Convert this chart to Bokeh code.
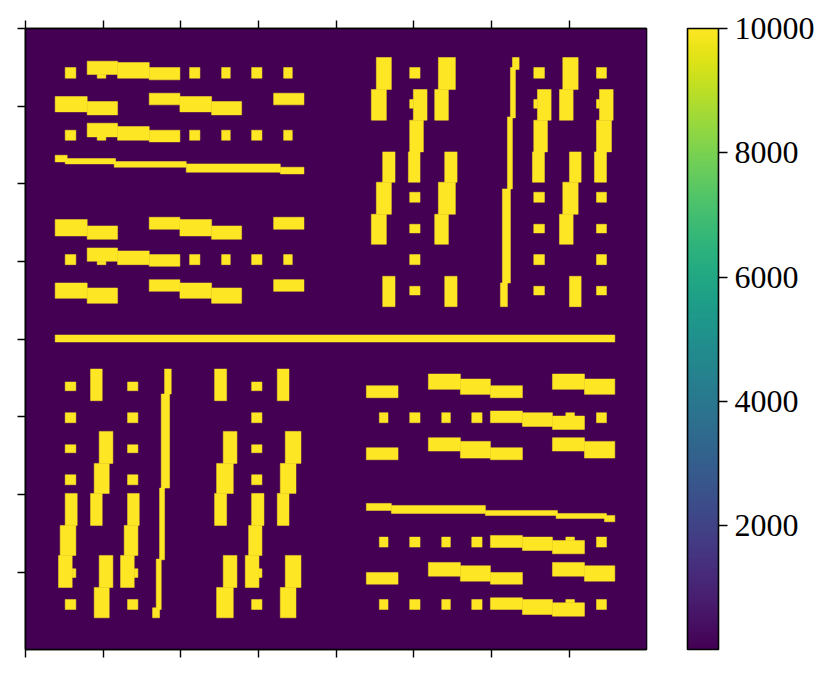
from bokeh.embed import file_html
from bokeh.resources import INLINE
from bokeh.plotting import figure
from bokeh.models import (ColumnDataSource, LinearColorMapper, ColorBar, FixedTicker,
                          LinearAxis, Range1d)
from bokeh.palettes import Viridis256

# matrix extent and tick positions (matrix units)
SIZE = 1862
TICKS = [0, 233, 466, 699, 932, 1164, 1397, 1630]
CBAR_TICKS = [2000, 4000, 6000, 8000, 10000]
VMIN, VMAX = 8, 10000

# blocks of high value, per quadrant: (x0, x1, y0, y1), local quadrant coordinates
TL = [
 (195,227,172,204),(261,352,153,193),(291,317,193,204),(352,447,157,204),(447,539,172,209),
 (568,599,172,204),(664,690,172,204),(754,785,172,204),(850,876,172,204),
 (165,261,259,305),(261,352,274,314),(447,539,249,284),(539,634,259,305),(634,724,274,314),(820,911,249,284),
 (195,227,360,390),(261,352,339,380),(291,317,380,390),(352,447,349,390),(447,539,360,395),
 (568,599,360,390),(664,690,360,390),(754,785,360,390),(850,876,360,390),
 (165,201,435,455),(195,346,445,461),(342,558,454,471),(558,840,461,486),(840,911,471,491),
 (165,261,628,677),(261,352,647,687),(447,539,621,657),(539,634,628,677),(634,724,647,687),(820,911,621,657),
 (195,227,733,763),(261,352,713,753),(291,317,753,763),(352,447,722,763),(447,539,733,768),
 (568,599,733,763),(664,690,733,763),(754,785,733,763),(850,876,733,763),
 (165,261,818,864),(261,352,833,879),(447,539,808,843),(539,634,818,864),(634,724,833,879),(820,911,808,843),
]
TR = [
 (138,183,142,238),(123,168,238,330),(157,194,425,516),(138,183,516,612),(123,168,612,702),(157,194,798,889),
 (238,269,172,204),(249,290,238,330),(238,249,268,294),(238,279,330,425),(234,269,425,516),
 (238,269,546,576),(238,269,642,668),(238,269,733,763),(238,269,828,854),
 (324,375,142,238),(313,354,238,330),(343,380,425,516),(324,375,516,612),(313,354,612,702),(343,380,798,889),
 (546,566,142,178),(540,555,172,323),(531,546,320,536),(516,540,536,818),(510,531,818,889),
 (610,642,172,204),(621,662,238,330),(610,621,268,294),(610,651,330,425),(606,642,425,516),
 (610,642,546,576),(610,642,642,668),(610,642,733,763),(610,642,828,854),
 (697,743,142,238),(687,728,238,330),(717,752,425,516),(697,743,516,612),(687,728,612,702),(717,752,798,889),
 (798,828,172,204),(807,848,238,330),(798,807,268,294),(798,843,330,425),(792,828,425,516),
 (798,828,546,576),(798,828,642,668),(798,828,733,763),(798,828,828,854),
]
BL = [
 (195,227,155,181),(195,227,247,277),(195,227,343,367),(195,227,433,463),(195,231,489,585),
 (180,227,585,675),(175,216,675,771),(216,227,715,741),(195,227,807,837),
 (271,306,116,211),(297,338,303,399),(282,327,399,489),(271,306,489,585),(297,338,675,771),(282,327,771,862),
 (382,413,155,181),(382,413,247,277),(382,413,343,367),(382,413,433,463),(382,417,489,585),
 (372,413,585,675),(361,402,675,771),(402,413,715,741),(382,413,807,837),
 (493,513,116,191),(483,508,191,473),(478,493,473,688),(468,483,686,837),(457,478,832,862),
 (643,679,116,211),(669,710,303,399),(649,699,399,489),(643,679,489,585),(669,710,675,771),(649,699,771,862),
 (754,785,155,181),(754,785,247,277),(754,785,343,367),(754,785,433,463),(754,791,489,585),
 (745,785,585,675),(735,776,675,771),(776,785,715,741),(754,785,807,837),
 (831,866,116,211),(855,902,303,399),(840,887,399,489),(831,866,489,585),(855,902,675,771),(840,887,771,862),
]
BR = [
 (108,203,166,202),(294,390,131,177),(390,480,146,192),(480,576,166,202),(666,762,131,177),(762,853,146,192),
 (147,173,247,277),(238,269,247,277),(334,360,247,277),(424,455,247,277),(480,576,242,277),(576,666,247,288),
 (666,762,257,297),(706,732,247,257),(798,828,247,277),
 (108,203,352,388),(294,390,322,362),(390,480,333,383),(480,576,352,388),(666,762,322,362),(762,853,333,383),
 (108,183,519,540),(183,465,525,549),(465,681,540,555),(677,828,549,564),(822,853,555,574),
 (147,173,620,650),(238,269,620,650),(334,360,620,650),(424,455,620,650),(480,576,615,651),(576,666,620,660),
 (666,762,630,670),(706,732,620,630),(798,828,620,650),
 (108,203,726,761),(294,390,696,737),(390,480,706,752),(480,576,726,761),(666,762,696,737),(762,853,706,752),
 (147,173,807,837),(238,269,807,837),(334,360,807,837),(424,455,807,837),(480,576,802,837),(576,666,807,852),
 (666,762,817,857),(706,732,807,817),(798,828,807,837),
]
MIDDLE = [(89, 1767, 919, 940)]

QUADRANTS = [(TL, -76, -55), (TR, 914, -55), (BL, -76, 905), (BR, 914, 905), (MIDDLE, 0, 0)]

left, right, top, bottom, val = [], [], [], [], []
for blocks, dx, dy in QUADRANTS:
    for x0, x1, y0, y1 in blocks:
        left.append(x0 + dx); right.append(x1 + dx)
        top.append(y0 + dy); bottom.append(y1 + dy)
        val.append(VMAX)

src = ColumnDataSource(dict(left=left, right=right, top=top, bottom=bottom, val=val))
mapper = LinearColorMapper(palette=Viridis256, low=VMIN, high=VMAX)

p = figure(width=815, height=658, output_backend="svg", toolbar_location=None,
           x_range=Range1d(0, SIZE), y_range=Range1d(SIZE, 0),
           x_axis_location=None, y_axis_location=None,
           min_border_left=25, min_border_top=28, min_border_bottom=9, min_border_right=10)
p.frame_width = 621
p.frame_height = 621
p.grid.visible = False
p.background_fill_color = Viridis256[0]
p.outline_line_color = "black"
p.outline_line_width = 1.6

# the low-valued background of the matrix
p.quad(left=[0], right=[SIZE], top=[0], bottom=[SIZE],
       fill_color=Viridis256[0], line_color=None)
# thin same-colour outlines close the antialiased seams between touching blocks
p.quad(left="left", right="right", top="top", bottom="bottom", source=src,
       fill_color={"field": "val", "transform": mapper},
       line_color={"field": "val", "transform": mapper}, line_width=0.5)

blank = {t: "" for t in TICKS}
for loc in ("above", "below", "left"):
    ax = LinearAxis(ticker=FixedTicker(ticks=TICKS), major_label_overrides=blank,
                    major_tick_out=8, major_tick_in=0, minor_tick_out=0, minor_tick_in=0,
                    major_tick_line_width=1.4, major_tick_line_color="black",
                    axis_line_color="black", axis_line_width=1.6,
                    major_label_standoff=0, major_label_text_font_size="1px")
    p.add_layout(ax, loc)

cb = ColorBar(color_mapper=mapper, ticker=FixedTicker(ticks=CBAR_TICKS),
              width=31, height=621, padding=0, margin=0, location=(41, 0),
              major_tick_in=0, major_tick_out=9, minor_tick_in=0, minor_tick_out=0,
              major_tick_line_color="black", major_tick_line_width=1.4,
              bar_line_color="black", bar_line_width=1.6,
              major_label_text_font="Liberation Serif", major_label_text_font_size="32px",
              major_label_text_color="black", label_standoff=7, border_line_color=None,
              background_fill_color=None)
p.add_layout(cb, "right")

open("out.html", "w").write(file_html(p, INLINE))
